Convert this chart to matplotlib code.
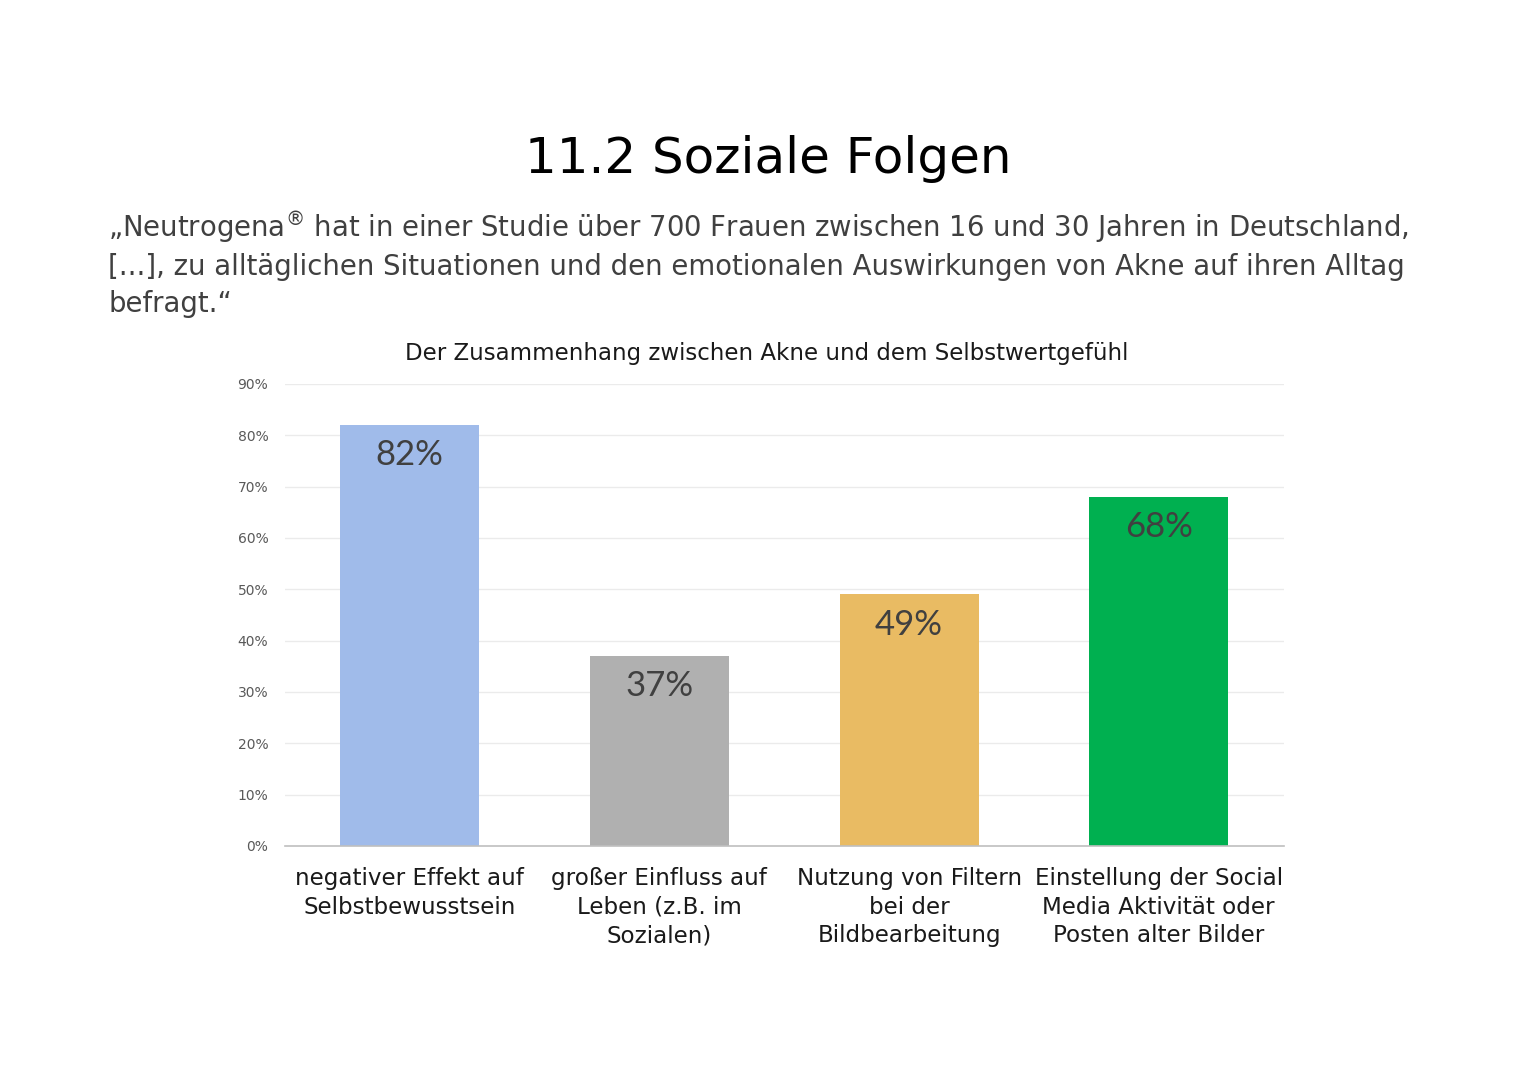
import matplotlib.pyplot as plt
import matplotlib.ticker as mticker

# Data
categories = [
    "negativer Effekt auf\nSelbstbewusstsein",
    "großer Einfluss auf\nLeben (z.B. im\nSozialen)",
    "Nutzung von Filtern\nbei der\nBildbearbeitung",
    "Einstellung der Social\nMedia Aktivität oder\nPosten alter Bilder",
]
values = [82, 37, 49, 68]
bar_colors = ["#A0BBEA", "#B0B0B0", "#E9BB63", "#00B050"]
y_ticks = [0, 10, 20, 30, 40, 50, 60, 70, 80, 90]

title = "11.2 Soziale Folgen"
quote_lines = [
    "\u201eNeutrogena$^{\u00ae}$ hat in einer Studie über 700 Frauen zwischen 16 und 30 Jahren in Deutschland,",
    "[...], zu alltäglichen Situationen und den emotionalen Auswirkungen von Akne auf ihren Alltag",
    "befragt.\u201c",
]
chart_title = "Der Zusammenhang zwischen Akne und dem Selbstwertgefühl"

plt.rcParams['font.family'] = ['DejaVu Sans']
plt.rcParams['mathtext.fontset'] = 'dejavusans'

fig = plt.figure(figsize=(15.27, 10.8), dpi=100)
fig.patch.set_facecolor("white")

# Slide title and quote (one text per line so the spacing stays even)
fig.text(0.503, 0.853, title, ha="center", va="center", fontsize=36, color="#000000")
for i, line in enumerate(quote_lines):
    fig.text(0.071, 1 - (238 + 37 * i) / 1080, line, ha="left", va="baseline",
             fontsize=19.8, color="#404040")
fig.text(0.5023, 0.673, chart_title, ha="center", va="center", fontsize=16.5, color="#1a1a1a")

ax = fig.add_axes([0.1866, 0.2167, 0.654, 0.4278])
x = range(len(categories))
bars = ax.bar(x, values, width=0.556, color=bar_colors, zorder=2)

for rect, v in zip(bars, values):
    ax.text(rect.get_x() + rect.get_width() / 2, v - 2.8, f"{v}%", ha="center", va="top",
            fontsize=25, color="#404040", family="Lato")

ax.set_xlim(-0.5, len(categories) - 0.5)
ax.set_ylim(0, 90)
ax.set_yticks(y_ticks)
ax.yaxis.set_major_formatter(mticker.FuncFormatter(lambda v, p: f"{int(v)}%"))
ax.tick_params(axis="y", length=0, labelsize=10, labelcolor="#595959", pad=12)
ax.set_xticks(list(x))
ax.set_xticklabels(categories, fontsize=16.6, color="#1a1a1a", linespacing=1.32)
ax.tick_params(axis="x", length=0, pad=15)
ax.grid(axis="y", color="#EBEBEB", linewidth=1, zorder=0)

for s in ["top", "right", "left"]:
    ax.spines[s].set_visible(False)
ax.spines["bottom"].set_color("#BFBFBF")
ax.spines["bottom"].set_linewidth(1.2)

fig.savefig("out.png", dpi=100)
